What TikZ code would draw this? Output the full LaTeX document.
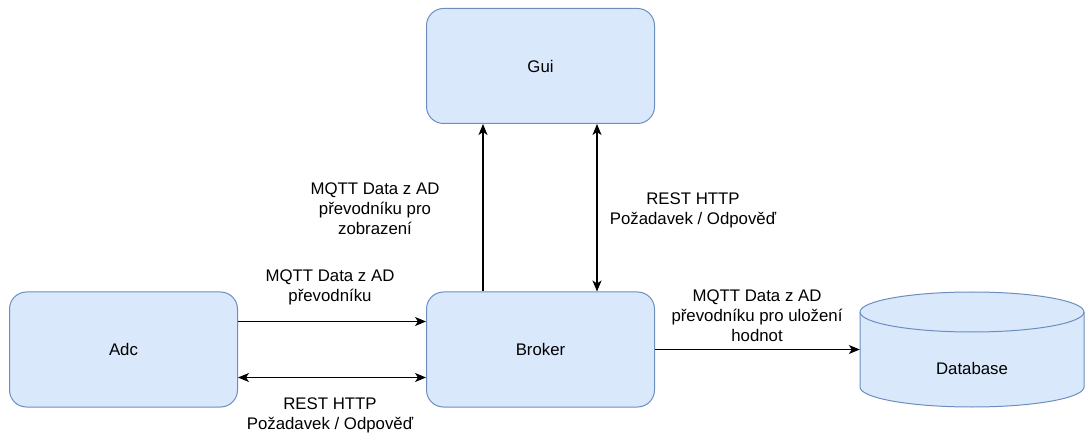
\documentclass[tikz,border=0pt]{standalone}
\usepackage{fontspec}
\setmainfont{Liberation Sans}
\usetikzlibrary{arrows.meta}
\definecolor{boxfill}{HTML}{DAE8FC}
\definecolor{boxline}{HTML}{6C8EBF}
\tikzset{
	block/.style={draw=boxline,fill=boxfill,line width=1pt,rounded corners=17pt,minimum width=228pt,minimum height=115pt,inner sep=0pt},
	conn/.style={line width=1.1pt,-{Stealth[length=11pt,width=9pt,inset=3pt]}},
	dconn/.style={line width=1.1pt,{Stealth[length=11pt,width=9pt,inset=3pt]}-{Stealth[length=11pt,width=9pt,inset=3pt]}},
	lbl/.style={align=center,inner sep=0pt}
}
\begin{document}
\begin{tikzpicture}[x=1pt,y=-1pt,font=\fontsize{16.8}{20}\selectfont]
	\useasboundingbox (0,0) rectangle (1086,435);
	\node[block] (gui) at (540.5,66) {Gui};
	\node[block] (adc) at (123.5,349.5) {Adc};
	\node[block] (broker) at (540.5,349.5) {Broker};
	% database cylinder
	\filldraw[fill=boxfill,draw=boxline,line width=1pt] (860,312) -- (860,387) arc[start angle=180,end angle=0,x radius=112,y radius=20] -- (1084,312) arc[start angle=0,end angle=-180,x radius=112,y radius=20] -- cycle;
	\draw[boxline,line width=1pt] (860,312) arc[start angle=180,end angle=0,x radius=112,y radius=20];
	\node[minimum width=224pt,minimum height=115pt,inner sep=0pt] (db) at (972,349.5) {};
	\node (dbtext) at (972,368) {Database};
	\draw[conn] ([yshift=28pt]adc.east) -- ([yshift=28pt]broker.west);
	\draw[dconn] ([yshift=-28pt]adc.east) -- ([yshift=-28pt]broker.west);
	\draw[conn] ([xshift=-57.5pt]broker.north) -- ([xshift=-57.5pt]gui.south);
	\draw[dconn] ([xshift=56.5pt]broker.north) -- ([xshift=56.5pt]gui.south);
	\draw[conn] (broker.east) -- (db.west);
	\node[lbl] (lblgui) at (375,209) {MQTT Data z AD\\převodníku pro\\zobrazení};
	\node[lbl] (lbladc) at (330,287.5) {MQTT Data z AD\\převodníku};
	\node[lbl] (lblrest) at (330,415.5) {REST HTTP\\Požadavek / Odpověď};
	\node[lbl] (lblguirest) at (693,210) {REST HTTP\\Požadavek / Odpověď};
	\node[lbl] (lbldb) at (757,315.5) {MQTT Data z AD\\převodníku pro uložení\\hodnot};
\end{tikzpicture}
\end{document}
